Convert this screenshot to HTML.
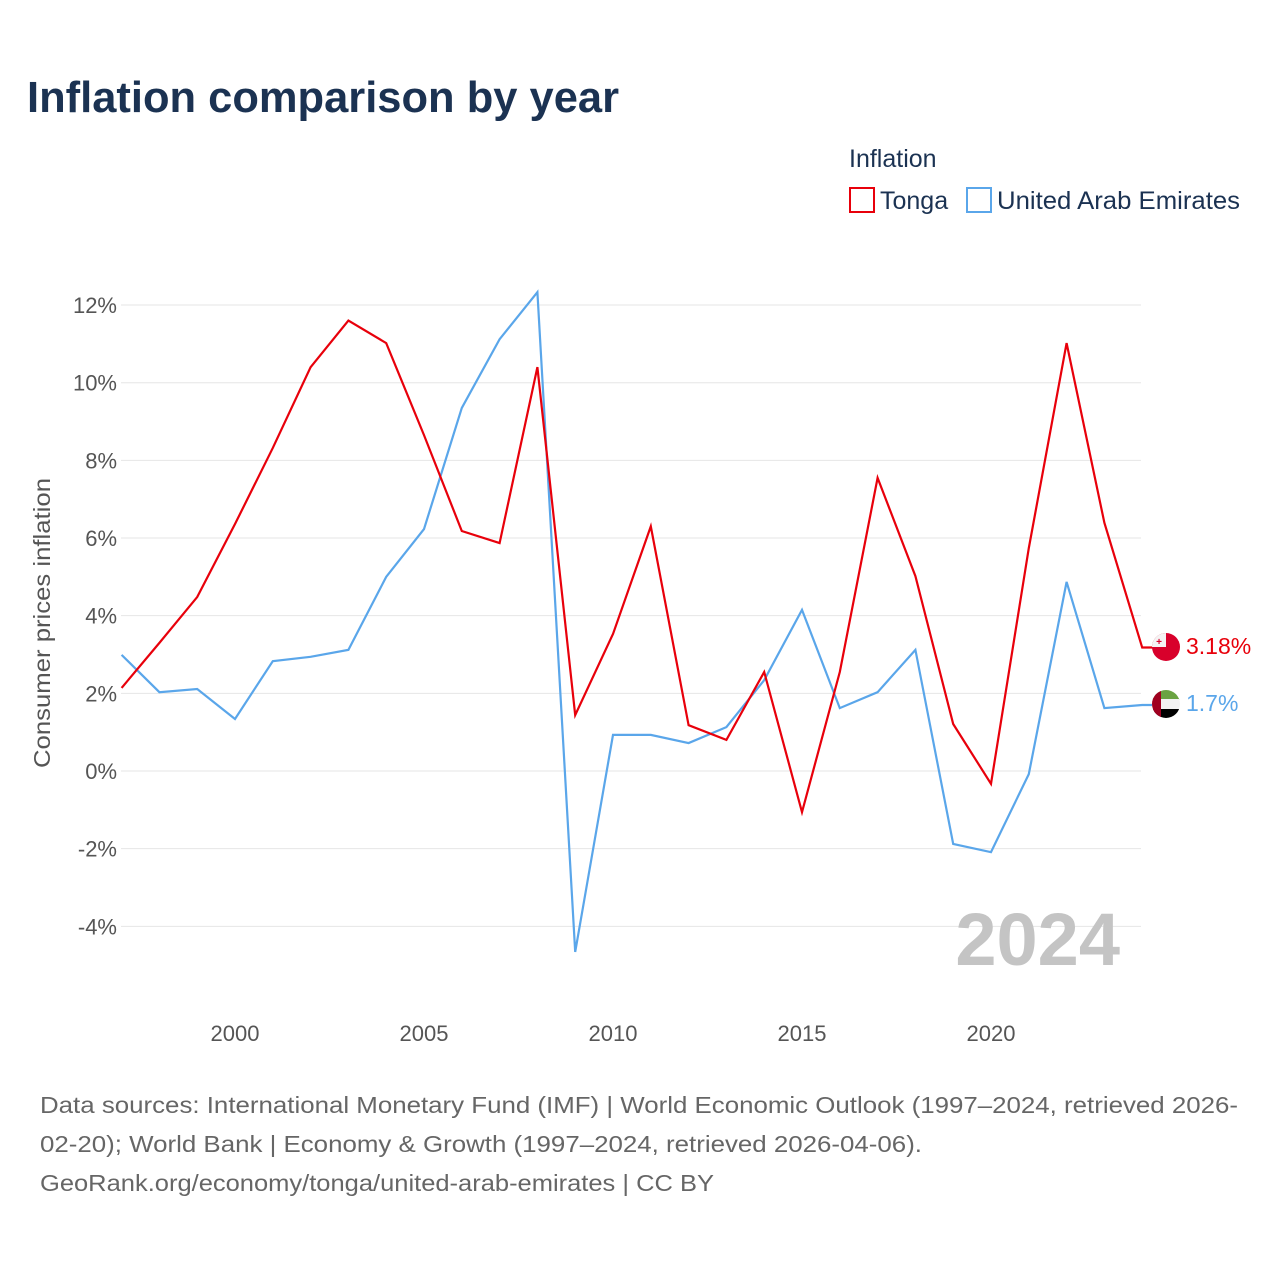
<!DOCTYPE html>
<html><head><meta charset="utf-8"><style>
body{margin:0;background:#fff;font-family:"Liberation Sans",sans-serif}
svg{display:block}
</style></head><body>
<svg id="chart" width="1280" height="1280" viewBox="0 0 1280 1280">
<text x="27" y="112" font-size="44" font-weight="bold" fill="#1b3252" textLength="592" lengthAdjust="spacingAndGlyphs">Inflation comparison by year</text>
<text x="849" y="167" font-size="25" fill="#1b3252">Inflation</text>
<g><rect x="850" y="188" width="24" height="24" fill="none" stroke="#e8000b" stroke-width="2"/><text x="880" y="209" font-size="25" fill="#1b3252">Tonga</text></g>
<g><rect x="967" y="188" width="24" height="24" fill="none" stroke="#5aa6ea" stroke-width="2"/><text x="997" y="209" font-size="25" fill="#1b3252" textLength="243" lengthAdjust="spacingAndGlyphs">United Arab Emirates</text></g>
<g id="grid"></g><g id="yticks"></g><g id="xticks"></g>
<text transform="translate(50,623) rotate(-90)" text-anchor="middle" font-size="23" fill="#555" textLength="290" lengthAdjust="spacingAndGlyphs">Consumer prices inflation</text>
<text x="1120" y="965" text-anchor="end" font-size="74" font-weight="bold" fill="#c4c4c4">2024</text>
<g id="series"></g>
<g><circle cx="1166" cy="647" r="14" fill="#d8002b"/><path d="M1152 647 A14 14 0 0 1 1166 633 L1166 647 Z" fill="#f4f4f4"/><text x="1159" y="645" font-size="10" fill="#d8002b" text-anchor="middle" font-weight="bold">+</text></g>
<text x="1186" y="654" font-size="23" fill="#e8000b">3.18%</text>
<g><clipPath id="cc"><circle cx="1166" cy="704" r="14"/></clipPath><g clip-path="url(#cc)"><rect x="1152" y="690" width="28" height="10" fill="#6aa342"/><rect x="1152" y="699" width="28" height="10" fill="#f2f2f2"/><rect x="1152" y="709" width="28" height="10" fill="#000"/><rect x="1152" y="690" width="9" height="28" fill="#a00020"/></g></g>
<text x="1186" y="711" font-size="23" fill="#5aa6ea">1.7%</text>
<text font-size="23" fill="#666"><tspan x="40" y="1113" textLength="1198" lengthAdjust="spacingAndGlyphs">Data sources: International Monetary Fund (IMF) | World Economic Outlook (1997–2024, retrieved 2026-</tspan><tspan x="40" y="1152" textLength="882" lengthAdjust="spacingAndGlyphs">02-20); World Bank | Economy &amp; Growth (1997–2024, retrieved 2026-04-06).</tspan><tspan x="40" y="1191" textLength="674" lengthAdjust="spacingAndGlyphs">GeoRank.org/economy/tonga/united-arab-emirates | CC BY</tspan></text>
</svg>
<script>
const years=[1997,1998,1999,2000,2001,2002,2003,2004,2005,2006,2007,2008,2009,2010,2011,2012,2013,2014,2015,2016,2017,2018,2019,2020,2021,2022,2023,2024];
const tonga=[2.14,3.3,4.48,6.36,8.32,10.4,11.6,11.02,8.65,6.18,5.87,10.4,1.44,3.53,6.3,1.18,0.8,2.55,-1.06,2.55,7.55,5.02,1.21,-0.33,5.74,11.02,6.39,3.18];
const uae=[2.99,2.03,2.11,1.34,2.83,2.94,3.12,5.0,6.23,9.35,11.12,12.33,-4.66,0.93,0.93,0.72,1.13,2.34,4.15,1.62,2.03,3.12,-1.88,-2.09,-0.08,4.87,1.62,1.7];
const yTicks=[-4,-2,0,2,4,6,8,10,12];
const xTicks=[2000,2005,2010,2015,2020];
const NS="http://www.w3.org/2000/svg";
const X=y=>121.6+(y-1997)*37.8;
const Y=v=>771-v*38.83;
function mk(t,a,p){const e=document.createElementNS(NS,t);for(const k in a)e.setAttribute(k,a[k]);p.appendChild(e);return e;}
const g=document.getElementById('grid'),yt=document.getElementById('yticks'),xt=document.getElementById('xticks'),s=document.getElementById('series');
yTicks.forEach(v=>{
const l=mk('line',{x1:121,x2:1141,y1:Y(v),y2:Y(v),stroke:'#e6e6e6','stroke-width':1},g);


const t=mk('text',{x:117,y:Y(v)+8,'text-anchor':'end','font-size':22,fill:'#555'},yt);
t.textContent=v+'%';


});
xTicks.forEach(v=>{
const t=mk('text',{x:X(v),y:1041,'text-anchor':'middle','font-size':22,fill:'#555'},xt);
t.textContent=v;


});
function line(vals,col,name){
const pts=vals.map((v,i)=>X(years[i])+','+Y(v));
const last=vals[vals.length-1];
pts.push((X(years[years.length-1])+16)+','+Y(last));
const p=mk('polyline',{points:pts.join(' '),fill:'none',stroke:col,'stroke-width':2.2,'stroke-linejoin':'miter'},s);


}
line(uae,'#5aa6ea','uae-line');
line(tonga,'#e8000b','tonga-line');
</script>
</body></html>
